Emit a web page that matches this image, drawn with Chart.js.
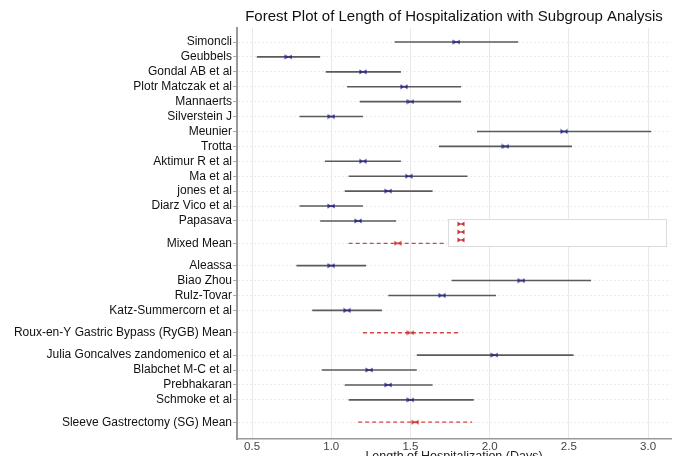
<!DOCTYPE html>
<html>
<head>
<meta charset="utf-8">
<script src="https://cdn.jsdelivr.net/npm/chart.js@4.4.1/dist/chart.umd.min.js"></script>
<style>
  html, body { margin: 0; padding: 0; background: #fff; }
  #wrap { width: 681px; height: 456px; }
</style>
</head>
<body>
<div id="wrap"><canvas id="forest"></canvas></div>
<script>
// rows of the forest plot, top to bottom
const labels = [
  "Simoncli", "Geubbels", "Gondal AB et al", "Plotr Matczak et al", "Mannaerts",
  "Silverstein J", "Meunier", "Trotta", "Aktimur R et al", "Ma et al",
  "jones et al", "Diarz Vico et al", "Papasava", "Mixed Mean",
  "Aleassa", "Biao Zhou", "Rulz-Tovar", "Katz-Summercorn et al",
  "Roux-en-Y Gastric Bypass (RyGB) Mean",
  "Julia Goncalves zandomenico et al", "Blabchet M-C et al", "Prebhakaran", "Schmoke et al",
  "Sleeve Gastrectomy (SG) Mean"
];
const rowPos = [0, 1, 2, 3, 4, 5, 6, 7, 8, 9, 10, 11, 12, 13.5,
  15, 16, 17, 18, 19.5, 21, 22, 23, 24, 25.5];
const estimate = [1.79, 0.73, 1.20, 1.46, 1.50, 1.00, 2.47, 2.10, 1.20, 1.49,
  1.36, 1.00, 1.17, 1.42, 1.00, 2.20, 1.70, 1.10, 1.50, 2.03, 1.24, 1.36, 1.50, 1.53];
const lower = [1.40, 0.53, 0.965, 1.10, 1.18, 0.80, 1.92, 1.68, 0.96, 1.11,
  1.085, 0.80, 0.93, 1.11, 0.78, 1.76, 1.36, 0.88, 1.20, 1.54, 0.94, 1.085, 1.11, 1.17];
const upper = [2.18, 0.93, 1.44, 1.82, 1.82, 1.20, 3.02, 2.52, 1.44, 1.86,
  1.64, 1.20, 1.41, 1.72, 1.22, 2.64, 2.04, 1.32, 1.80, 2.53, 1.54, 1.64, 1.90, 1.89];
const meanRows = ["Mixed Mean", "Roux-en-Y Gastric Bypass (RyGB) Mean", "Sleeve Gastrectomy (SG) Mean"];
const xTicks = [0.5, 1.0, 1.5, 2.0, 2.5, 3.0];

const FONT = "'Liberation Sans', Arial, sans-serif";

function bowtie(color) {
  const c = document.createElement("canvas");
  c.width = 8; c.height = 6;
  const g = c.getContext("2d");
  g.fillStyle = color;
  g.beginPath();
  g.moveTo(0.5, 0.5); g.lineTo(4, 3); g.lineTo(0.5, 5.5); g.closePath();
  g.moveTo(7.5, 0.5); g.lineTo(4, 3); g.lineTo(7.5, 5.5); g.closePath();
  g.fill();
  g.fillRect(1, 2.5, 6, 1);
  return c;
}
const blueMark = bowtie("#2b2b88");
const redMark = bowtie("#cc3333");

const datasets = [];
const studyPts = [];
const meanPts = [];
labels.forEach((name, i) => {
  const isMean = meanRows.includes(name);
  datasets.push({
    data: [{ x: lower[i], y: rowPos[i] }, { x: upper[i], y: rowPos[i] }],
    showLine: true,
    pointRadius: 0,
    borderColor: isMean ? "#d24545" : "#5a5a5a",
    borderWidth: isMean ? 1.3 : 1.6,
    borderDash: isMean ? [4, 3] : [],
    order: 2
  });
  (isMean ? meanPts : studyPts).push({ x: estimate[i], y: rowPos[i] });
});
datasets.push({ data: studyPts, pointStyle: blueMark, order: 0 });
datasets.push({ data: meanPts, pointStyle: redMark, order: 0 });

// the empty legend box drawn inside the plot
const legendBox = {
  id: "legendBox",
  afterDatasetsDraw(chart) {
    const { ctx, chartArea } = chart;
    const x = chartArea.left + 211, y = chartArea.top + 191, w = 218, h = 27;
    ctx.save();
    ctx.fillStyle = "#fff";
    ctx.strokeStyle = "#dcdcdc";
    ctx.lineWidth = 1;
    ctx.fillRect(x, y, w, h);
    ctx.strokeRect(x + 0.5, y + 0.5, w, h);
    for (let k = 0; k < 3; k++) {
      ctx.drawImage(redMark, x + 9, y + 2 + k * 8);
    }
    ctx.restore();
  }
};

new Chart(document.getElementById("forest"), {
  type: "scatter",
  data: { datasets: datasets },
  options: {
    responsive: true,
    maintainAspectRatio: false,
    animation: false,
    layout: { padding: { left: 0, right: 10, top: 0, bottom: -8 } },
    plugins: {
      legend: { display: false },
      tooltip: { enabled: false },
      title: {
        display: true,
        text: "Forest Plot of Length of Hospitalization with Subgroup Analysis",
        fullSize: false,
        color: "#111",
        font: { family: FONT, size: 15, weight: "normal" },
        padding: { top: 8, bottom: 2 }
      }
    },
    scales: {
      x: {
        type: "linear",
        min: 0.405,
        max: 3.145,
        afterBuildTicks: (scale) => { scale.ticks = xTicks.map(v => ({ value: v })); },
        ticks: {
          callback: (v) => v.toFixed(1),
          color: "#444",
          padding: 1,
          font: { family: FONT, size: 11.5 }
        },
        grid: { color: "#e8e8e8", drawTicks: false },
        border: { color: "#999", width: 1.5 },
        title: {
          display: true,
          text: "Length of Hospitalization (Days)",
          color: "#222",
          font: { family: FONT, size: 12.5 },
          padding: { top: -6, bottom: 0 }
        }
      },
      y: {
        type: "linear",
        reverse: true,
        min: -0.94,
        max: 26.64,
        afterBuildTicks: (scale) => { scale.ticks = rowPos.map(v => ({ value: v })); },
        afterFit: (scale) => { scale.width = 237; },
        ticks: {
          callback: (v) => labels[rowPos.indexOf(v)],
          color: "#111",
          padding: 1,
          font: { family: FONT, size: 12 }
        },
        grid: { color: "#ececec", tickLength: 4, tickColor: "#aaa" },
        border: { color: "#999", width: 2, dash: [2, 2] }
      }
    }
  },
  plugins: [legendBox]
});
</script>
</body>
</html>
